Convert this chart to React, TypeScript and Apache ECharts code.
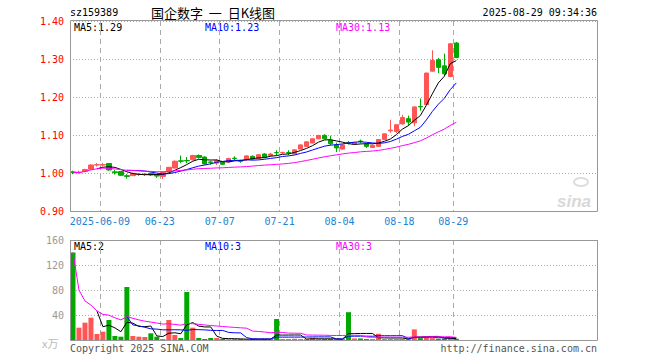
import React, { useEffect, useRef } from "react";
import * as echarts from "echarts";

const dates = [
  "2025-05-30","2025-06-03","2025-06-04","2025-06-05","2025-06-06","2025-06-09","2025-06-10","2025-06-11","2025-06-12","2025-06-13",
  "2025-06-16","2025-06-17","2025-06-18","2025-06-19","2025-06-20","2025-06-23","2025-06-24","2025-06-25","2025-06-26","2025-06-27",
  "2025-06-30","2025-07-01","2025-07-02","2025-07-03","2025-07-04","2025-07-07","2025-07-08","2025-07-09","2025-07-10","2025-07-11",
  "2025-07-14","2025-07-15","2025-07-16","2025-07-17","2025-07-18","2025-07-21","2025-07-22","2025-07-23","2025-07-24","2025-07-25",
  "2025-07-28","2025-07-29","2025-07-30","2025-07-31","2025-08-01","2025-08-04","2025-08-05","2025-08-06","2025-08-07","2025-08-08",
  "2025-08-11","2025-08-12","2025-08-13","2025-08-14","2025-08-15","2025-08-18","2025-08-19","2025-08-20","2025-08-21","2025-08-22",
  "2025-08-25","2025-08-26","2025-08-27","2025-08-28","2025-08-29"
];

const opens = [
  1.003,1.001,1.004,1.010,1.021,1.021,1.025,1.003,1.004,0.993,
  0.993,0.996,0.996,0.999,0.994,0.991,1.003,1.013,1.032,1.033,
  1.035,1.046,1.042,1.029,1.026,1.028,1.029,1.039,1.032,1.035,
  1.044,1.038,1.050,1.046,1.054,1.053,1.054,1.050,1.063,1.070,
  1.079,1.090,1.099,1.086,1.074,1.063,1.080,1.076,1.084,1.076,
  1.067,1.070,1.088,1.111,1.109,1.129,1.143,1.132,1.175,1.180,
  1.268,1.298,1.282,1.254,1.342
];
const closes = [
  1.001,1.002,1.009,1.021,1.022,1.022,1.008,1.001,0.994,0.991,
  0.999,0.997,0.997,0.995,0.992,1.002,1.015,1.031,1.031,1.032,
  1.046,1.041,1.024,1.028,1.033,1.023,1.038,1.038,1.031,1.045,
  1.037,1.048,1.041,1.050,1.053,1.054,1.053,1.061,1.074,1.082,
  1.090,1.099,1.090,1.077,1.066,1.074,1.079,1.080,1.083,1.070,
  1.073,1.088,1.103,1.113,1.127,1.146,1.134,1.174,1.174,1.263,
  1.296,1.278,1.261,1.340,1.304
];
const lows = [
  0.997,0.998,1.002,1.008,1.017,1.017,1.006,0.996,0.992,0.985,
  0.992,0.992,0.992,0.992,0.987,0.984,1.002,1.012,1.026,1.026,
  1.033,1.038,1.022,1.022,1.021,1.021,1.027,1.033,1.027,1.033,
  1.035,1.036,1.039,1.044,1.046,1.050,1.047,1.049,1.062,1.069,
  1.078,1.089,1.089,1.073,1.055,1.062,1.075,1.075,1.078,1.066,
  1.066,1.069,1.087,1.106,1.105,1.128,1.125,1.123,1.164,1.179,
  1.267,1.263,1.256,1.252,1.302
];
const highs = [
  1.006,1.006,1.011,1.023,1.026,1.026,1.026,1.008,1.005,0.997,
  1.001,1.000,1.000,1.001,0.996,1.003,1.016,1.033,1.046,1.042,
  1.048,1.049,1.044,1.032,1.036,1.030,1.040,1.044,1.035,1.047,
  1.046,1.050,1.052,1.053,1.060,1.056,1.060,1.062,1.075,1.083,
  1.091,1.100,1.102,1.098,1.080,1.075,1.084,1.082,1.088,1.078,
  1.075,1.089,1.104,1.140,1.128,1.153,1.151,1.175,1.196,1.264,
  1.323,1.303,1.314,1.341,1.345
];
// volume in 万
const volumes = [
  140,19.7,27.7,35.7,9.6,13.3,32,6.4,5.3,84.8,
  6.4,5.3,4.8,10.7,5.3,1.6,32,8,3.2,76.8,
  19.7,3.2,1.6,3.2,3.2,1.8,1.2,1.2,1.5,1.2,
  1.5,1.2,1.5,1.8,33.6,1.5,1.2,2.0,1.5,1.5,
  3.5,1.5,1.5,1.5,1.2,1.5,44.5,2.5,2.5,1.5,
  1.5,10,1.5,1.5,1.5,1.8,1.2,17,3,4,
  3,2,2,2.5,2
];

const tickDates = ["2025-06-09","2025-06-23","2025-07-07","2025-07-21","2025-08-04","2025-08-18","2025-08-29"];
const tickTexts = ["2025-06-09","06-23","07-07","07-21","08-04","08-18","08-29"];
const totalSlots = 88;

const priceTicks = [0.9, 1.4, 0.1];
const volTicks = [0, 160, 40];

const priceLegend = ["MA5:1.29", "MA10:1.23", "MA30:1.13"];
const volLegend = ["MA5:2", "MA10:3", "MA30:3"];

function rollingMA(src: number[], n: number): (number | null)[] {
  return src.map((_, i) => {
    if (i < n - 1) return null;
    let s = 0;
    for (let k = i - n + 1; k <= i; k++) s += src[k];
    return +(s / n).toFixed(4);
  });
}
// MA30 uses whatever history exists (new listing)
function partialMA(src: number[], n: number): number[] {
  return src.map((_, i) => {
    const start = Math.max(0, i - n + 1);
    let s = 0;
    for (let k = start; k <= i; k++) s += src[k];
    return +(s / (i - start + 1)).toFixed(4);
  });
}

const MONO = "'DejaVu Sans Mono', 'Liberation Mono', monospace";
const RED = "#ff5555";
const GREEN = "#00a800";

export default function App() {
  const ref = useRef<HTMLDivElement>(null);
  useEffect(() => {
    if (!ref.current) return;
    const chart = echarts.init(ref.current, undefined, { renderer: "svg" });

    const cats: string[] = [];
    for (let i = 0; i < totalSlots; i++) cats.push(i < dates.length ? dates[i] : "pad" + i);
    const tickIdx = new Map<number, string>();
    tickDates.forEach((d, k) => tickIdx.set(dates.indexOf(d), tickTexts[k]));

    const kData = dates.map((_, i) => [opens[i], closes[i], lows[i], highs[i]]);
    const volData = volumes.map((v, i) => ({
      value: v,
      itemStyle: { color: closes[i] >= opens[i] ? RED : GREEN },
    }));

    const xBase = (grid: number, labels: boolean) => ({
      type: "category",
      gridIndex: grid,
      data: cats,
      boundaryGap: true,
      axisLine: { show: false },
      axisTick: { show: false },
      axisLabel: {
        show: labels,
        interval: (i: number) => tickIdx.has(i),
        formatter: (_v: string, i: number) => tickIdx.get(i) || "",
        color: "#1a84d6",
        fontFamily: MONO,
        fontSize: 10,
        margin: 5,
        padding: [0, 6, 0, 0],
      },
      splitLine: {
        show: true,
        interval: (i: number) => tickIdx.has(i),
        lineStyle: { color: "#aaaaaa", type: [5, 4], width: 1 },
      },
    });

    const lineS = (name: string, data: any[], color: string, x: number, y: number) => ({
      name,
      type: "line",
      xAxisIndex: x,
      yAxisIndex: y,
      data,
      symbol: "none",
      lineStyle: { color, width: 1 },
      itemStyle: { color },
      connectNulls: false,
      silent: true,
    });

    const txt = (x: number, y: number, text: string, fill: string, extra: any = {}) => ({
      type: "text",
      x,
      y,
      silent: true,
      style: {
        text,
        fill,
        font: `10px ${MONO}`,
        textVerticalAlign: "middle",
        ...extra,
      },
    });

    const option: any = {
      animation: false,
      grid: [
        { left: 70, right: 63, top: 21, height: 190, show: false },
        { left: 70, right: 63, top: 240, height: 100, show: false },
      ],
      xAxis: [xBase(0, true), xBase(1, false)],
      yAxis: [
        {
          type: "value",
          gridIndex: 0,
          min: priceTicks[0],
          max: priceTicks[1],
          interval: priceTicks[2],
          axisLine: { show: false },
          axisTick: { show: false },
          axisLabel: {
            color: "#ff0000",
            fontFamily: MONO,
            fontSize: 10,
            margin: 6,
            formatter: (v: number) => v.toFixed(2),
          },
          splitLine: { show: true, lineStyle: { color: "#aaaaaa", type: [1, 2], width: 1 } },
        },
        {
          type: "value",
          gridIndex: 1,
          min: volTicks[0],
          max: volTicks[1],
          interval: volTicks[2],
          axisLine: { show: false },
          axisTick: { show: false },
          axisLabel: {
            color: "#999999",
            fontFamily: MONO,
            fontSize: 10,
            margin: 6,
            formatter: (v: number) => (v === 0 ? "" : String(v)),
          },
          splitLine: { show: true, lineStyle: { color: "#aaaaaa", type: [1, 2], width: 1 } },
        },
      ],
      series: [
        {
          type: "candlestick",
          xAxisIndex: 0,
          yAxisIndex: 0,
          data: kData,
          barWidth: 5,
          itemStyle: {
            color: RED,
            color0: GREEN,
            borderColor: RED,
            borderColor0: GREEN,
            borderWidth: 1,
          },
          silent: true,
        },
        lineS("MA5", rollingMA(closes, 5), "#000000", 0, 0),
        lineS("MA10", rollingMA(closes, 10), "#0000ff", 0, 0),
        lineS("MA30", partialMA(closes, 30), "#ff00ff", 0, 0),
        {
          type: "bar",
          xAxisIndex: 1,
          yAxisIndex: 1,
          data: volData,
          barWidth: 5,
          silent: true,
        },
        lineS("VMA5", rollingMA(volumes, 5), "#000000", 1, 1),
        lineS("VMA10", rollingMA(volumes, 10), "#0000ff", 1, 1),
        lineS("VMA30", partialMA(volumes, 30), "#ff00ff", 1, 1),
      ],
      graphic: [
        txt(70, 12, "sz159389", "#000"),
        {
          type: "text",
          x: 151,
          y: 12,
          silent: true,
          style: {
            text: "国企数字  一  日K线图",
            fill: "#000",
            font: "13px 'Noto Sans CJK SC'",
            textVerticalAlign: "middle",
          },
        },
        txt(597, 12, "2025-08-29 09:34:36", "#000", { textAlign: "right" }),
        txt(74, 27, priceLegend[0], "#000000"),
        txt(205, 27, priceLegend[1], "#0000ff"),
        txt(336, 27, priceLegend[2], "#ff00ff"),
        txt(74, 246, volLegend[0], "#000000"),
        txt(205, 246, volLegend[1], "#0000ff"),
        txt(336, 246, volLegend[2], "#ff00ff"),
        {
          type: "text",
          x: 42,
          y: 343,
          silent: true,
          style: { text: "x万", fill: "#bbbbbb", font: "11px 'Noto Sans CJK SC'", textVerticalAlign: "middle" },
        },
        txt(70, 348, "Copyright 2025 SINA.COM", "#555555"),
        txt(597, 348, "http://finance.sina.com.cn", "#555555", { textAlign: "right" }),
        {
          type: "text",
          x: 557,
          y: 201,
          silent: true,
          style: {
            text: "sina",
            fill: "#d8d8d8",
            font: "italic bold 17px 'Liberation Sans', sans-serif",
            textVerticalAlign: "middle",
          },
        },
        {
          type: "ellipse",
          silent: true,
          shape: { cx: 581, cy: 182, rx: 7, ry: 4 },
          style: { fill: "none", stroke: "#dddddd", lineWidth: 2 },
        },
        {
          type: "rect",
          silent: true,
          z: 100,
          shape: { x: 70.5, y: 20.5, width: 527, height: 191 },
          style: { fill: "none", stroke: "#999999", lineWidth: 1 },
        },
        {
          type: "rect",
          silent: true,
          z: 100,
          shape: { x: 70.5, y: 240.5, width: 527, height: 100 },
          style: { fill: "none", stroke: "#999999", lineWidth: 1 },
        },
      ],
    };
    chart.setOption(option);
    return () => chart.dispose();
  }, []);
  return <div ref={ref} style={{ width: 660, height: 360, position: "absolute", left: 0, top: 0 }} />;
}
